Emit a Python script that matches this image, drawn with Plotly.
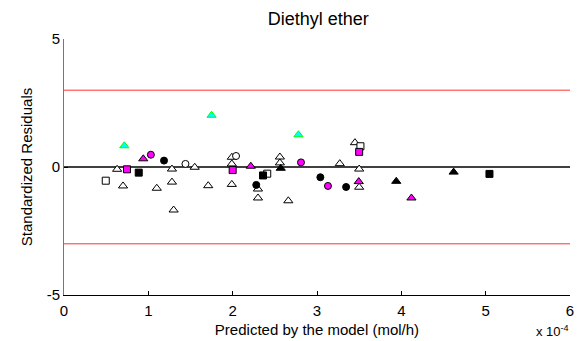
import plotly.graph_objects as go

# x values in units of 1e-4 mol/h
open_tri_x = [0.63, 0.70, 1.10, 1.28, 1.28, 1.30, 1.55, 1.71, 1.99, 1.99, 1.99, 2.30, 2.30, 2.56, 2.56, 2.66, 3.27, 3.45, 3.50, 3.50]
open_tri_y = [-0.09, -0.74, -0.83, -0.08, -0.59, -1.68, -0.01, -0.73, 0.38, 0.12, -0.68, -0.86, -1.21, 0.39, 0.16, -1.32, 0.13, 0.95, -0.08, -0.79]
open_circ_x = [1.44, 2.04]
open_circ_y = [0.12, 0.43]
open_sq_x = [0.495, 2.41, 3.515]
open_sq_y = [-0.535, -0.26, 0.81]
blk_circ_x = [1.186, 2.28, 3.04, 3.345]
blk_circ_y = [0.25, -0.70, -0.40, -0.78]
blk_sq_x = [0.886, 2.36, 5.045]
blk_sq_y = [-0.22, -0.33, -0.27]
blk_tri_x = [2.57, 3.94, 4.62]
blk_tri_y = [-0.05, -0.56, -0.20]
mag_circ_x = [1.03, 2.81, 3.13]
mag_circ_y = [0.48, 0.18, -0.74]
mag_sq_x = [0.747, 2.00, 3.50]
mag_sq_y = [-0.09, -0.12, 0.59]
mag_tri_x = [0.94, 2.215, 3.495, 4.12]
mag_tri_y = [0.32, 0.03, -0.57, -1.21]
grn_tri_x = [0.715, 1.75, 2.78]
grn_tri_y = [0.83, 2.02, 1.26]

x_ticks = [0, 1, 2, 3, 4, 5, 6]
y_ticks = [-5, 0, 5]
limit_lines = [3, -3]

fig = go.Figure()

def add(xs, ys, symbol, fill, edge, size):
    fig.add_trace(go.Scatter(x=xs, y=ys, mode="markers",
                             marker=dict(symbol=symbol, color=fill, size=size,
                                         line=dict(color=edge, width=1)),
                             showlegend=False, hoverinfo="skip"))

add(open_tri_x, open_tri_y, "triangle-up", "white", "black", 8)
add(open_circ_x, open_circ_y, "circle", "white", "black", 7)
add(open_sq_x, open_sq_y, "square", "white", "black", 7)
add(blk_circ_x, blk_circ_y, "circle", "black", "black", 7)
add(blk_sq_x, blk_sq_y, "square", "black", "black", 7)
add(blk_tri_x, blk_tri_y, "triangle-up", "black", "black", 8)
add(mag_circ_x, mag_circ_y, "circle", "magenta", "black", 7)
add(mag_sq_x, mag_sq_y, "square", "magenta", "black", 7)
add(mag_tri_x, mag_tri_y, "triangle-up", "magenta", "black", 8)
add(grn_tri_x, grn_tri_y, "triangle-up", "cyan", "lime", 8)

shapes = [dict(type="line", xref="paper", yref="y", x0=0, x1=1, y0=v, y1=v,
               line=dict(color="#ff3333", width=1), layer="below") for v in limit_lines]
shapes.append(dict(type="line", xref="paper", yref="y", x0=0, x1=1, y0=0, y1=0,
                   line=dict(color="black", width=1.5), layer="below"))

font = "Liberation Sans, Arial, sans-serif"
fig.update_layout(
    width=584, height=341,
    margin=dict(l=64, r=14, t=39, b=46),
    paper_bgcolor="white", plot_bgcolor="white",
    font=dict(family=font, color="black"),
    title=dict(text="Diethyl ether", x=0.545, xanchor="center", y=0.945, yanchor="middle",
               font=dict(size=18)),
    shapes=shapes,
    xaxis=dict(range=[0, 6], tickvals=x_ticks, ticktext=[str(v) for v in x_ticks],
               ticks="inside", ticklen=4, tickcolor="black", showline=True,
               linecolor="black", linewidth=1, showgrid=False, zeroline=False,
               tickfont=dict(size=15), ticklabelstandoff=2, automargin=False,
               title=dict(text="Predicted by the model (mol/h)", font=dict(size=15), standoff=6)),
    yaxis=dict(range=[-5, 5], tickvals=y_ticks, ticktext=[str(v) for v in y_ticks],
               ticks="inside", ticklen=4, tickcolor="black", showline=True,
               linecolor="#777777", linewidth=1, showgrid=False, zeroline=False,
               tickfont=dict(size=15), automargin=False,
               title=dict(text="Standardized Residuals", font=dict(size=15), standoff=10)),
    annotations=[dict(text="x 10<sup>-4</sup>", xref="paper", yref="paper", x=0.966, y=-0.1,
                      xanchor="center", yanchor="top", showarrow=False, font=dict(size=13))],
)

fig.write_html("out.html")
